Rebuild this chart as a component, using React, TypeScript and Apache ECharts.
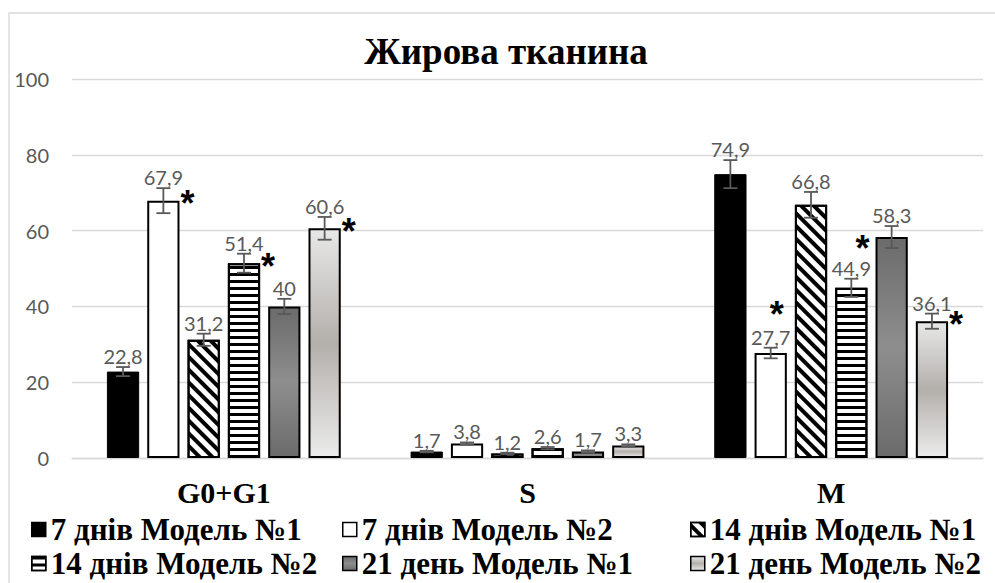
import React, { useEffect, useRef } from "react";
import * as echarts from "echarts";

const categories = ["G0+G1", "S", "M"];
const seriesNames = [
  "7 днів Модель №1",
  "7 днів Модель №2",
  "14 днів Модель №1",
  "14 днів Модель №2",
  "21 день Модель №1",
  "21 день Модель №2",
];
// values per series: [G0+G1, S, M]
const s1 = [22.8, 1.7, 74.9];
const s2 = [67.9, 3.8, 27.7];
const s3 = [31.2, 1.2, 66.8];
const s4 = [51.4, 2.6, 44.9];
const s5 = [40, 1.7, 58.3];
const s6 = [60.6, 3.3, 36.1];
const values = [s1, s2, s3, s4, s5, s6];
// error (± half range) per series
const e1 = [1.2, 0.2, 3.7];
const e2 = [3.3, 0.3, 1.4];
const e3 = [1.6, 0.2, 3.4];
const e4 = [2.5, 0.3, 2.4];
const e5 = [2.0, 0.3, 2.9];
const e6 = [3.0, 0.3, 2.0];
const errors = [e1, e2, e3, e4, e5, e6];
// significance marks: [categoryIndex, seriesIndex, side] side 0=right, 1=left, 2=top
const stars = [
  [0, 1, 0],
  [0, 3, 0],
  [0, 5, 0],
  [2, 1, 2],
  [2, 4, 1],
  [2, 5, 0],
];
const yTicks = { min: 0, max: 100, interval: 20 };

const BAR_CAT_GAP = 0.23;
const BAR_GAP = 0.25;
const N = 6;
const SERIF = "Liberation Serif";
const SANS = "Lato";

function barGeom(api: any, cat: number, s: number) {
  const band = api.size([1, 0])[0];
  const usable = band * (1 - BAR_CAT_GAP);
  const bw = usable / (N + (N - 1) * BAR_GAP);
  const center = api.coord([cat, 0])[0];
  const x = center - usable / 2 + bw / 2 + s * bw * (1 + BAR_GAP);
  return { x, bw };
}

const fmt = (v: number) => String(v).replace(".", ",");

export default function App() {
  const ref = useRef<HTMLDivElement>(null);
  useEffect(() => {
    if (!ref.current) return;
    const chart = echarts.init(ref.current, undefined, { renderer: "svg" });
    const border = { borderColor: "#000", borderWidth: 2 };
    const styles: any[] = [
      { color: "#000", borderColor: "#000", borderWidth: 1 },
      { color: "#fff", ...border },
      {
        color: "#fff",
        ...border,
        decal: {
          symbol: "rect",
          symbolSize: 1,
          color: "#000",
          backgroundColor: "#fff",
          dashArrayX: [1, 0],
          dashArrayY: [4, 5],
          rotation: Math.PI / 4,
        },
      },
      {
        color: "#fff",
        ...border,
        decal: {
          symbol: "rect",
          symbolSize: 1,
          color: "#000",
          backgroundColor: "#fff",
          dashArrayX: [1, 0],
          dashArrayY: [3, 4],
          rotation: 0,
        },
      },
      {
        color: new echarts.graphic.LinearGradient(0, 0, 0, 1, [
          { offset: 0, color: "#6b6b6b" },
          { offset: 0.5, color: "#8e8e8e" },
          { offset: 1, color: "#6b6b6b" },
        ]),
        ...border,
      },
      {
        color: new echarts.graphic.LinearGradient(0, 0, 0, 1, [
          { offset: 0, color: "#e8e8e8" },
          { offset: 0.5, color: "#b3afab" },
          { offset: 1, color: "#ebebeb" },
        ]),
        ...border,
      },
    ];

    const barSeries = values.map((vals, i) => ({
      name: seriesNames[i],
      type: "bar",
      data: vals,
      barGap: BAR_GAP * 100 + "%",
      barCategoryGap: BAR_CAT_GAP * 100 + "%",
      itemStyle: styles[i],
      z: 2,
    }));

    const errData: number[][] = [];
    values.forEach((vals, s) =>
      vals.forEach((v, c) => errData.push([c, s, v, errors[s][c]]))
    );
    const starData = stars.map(([c, s, side]) => [c, s, values[s][c], errors[s][c], side]);

    const legendText = {
      fontFamily: SERIF,
      fontWeight: "bold",
      fontSize: 31,
      color: "#000",
    };
    const mkLegend = (left: number, names: string[]) => ({
      left,
      top: 514,
      orient: "vertical",
      itemGap: 3,
      itemWidth: 14,
      itemHeight: 14,
      icon: "rect",
      data: names,
      textStyle: legendText,
      selectedMode: false,
      padding: 0,
      itemStyle: { borderColor: "#000", borderWidth: 1.5 },
    });

    chart.setOption({
      animation: false,
      title: {
        text: "Жирова тканина",
        left: 506,
        top: 33,
        textAlign: "center",
        padding: 0,
        textStyle: {
          fontFamily: SERIF,
          fontWeight: "bold",
          fontSize: 37,
          color: "#000",
        },
      },
      graphic: [
        {
          type: "rect",
          shape: { x: 9, y: 13, width: 1000, height: 600 },
          style: { fill: "none", stroke: "#d9d9d9", lineWidth: 1.3 },
          silent: true,
        },
      ],
      legend: [
        mkLegend(31, [seriesNames[0], seriesNames[3]]),
        mkLegend(342, [seriesNames[1], seriesNames[4]]),
        mkLegend(690, [seriesNames[2], seriesNames[5]]),
      ],
      grid: { left: 72, right: 12, top: 79, bottom: 125 },
      xAxis: {
        type: "category",
        data: categories,
        axisTick: { show: false },
        axisLine: { lineStyle: { color: "#d9d9d9", width: 1.3 } },
        axisLabel: {
          margin: 19,
          fontFamily: SERIF,
          fontWeight: "bold",
          fontSize: 30,
          color: "#000",
        },
      },
      yAxis: {
        type: "value",
        min: yTicks.min,
        max: yTicks.max,
        interval: yTicks.interval,
        axisLine: { show: false },
        axisTick: { show: false },
        splitLine: { lineStyle: { color: "#d9d9d9", width: 1.3 } },
        axisLabel: {
          margin: 23,
          fontFamily: SANS,
          fontSize: 20,
          color: "#595959",
        },
      },
      series: [
        ...barSeries,
        {
          type: "custom",
          name: "err",
          z: 10,
          silent: true,
          data: errData,
          renderItem: (params: any, api: any) => {
            const c = api.value(0);
            const s = api.value(1);
            const v = api.value(2);
            const e = api.value(3);
            const { x } = barGeom(api, c, s);
            const yt = api.coord([c, v + e])[1];
            const yb = api.coord([c, v - e])[1];
            const cap = 7;
            const ls = { stroke: "#595959", lineWidth: 1.8 };
            return {
              type: "group",
              children: [
                { type: "line", shape: { x1: x, y1: yt, x2: x, y2: yb }, style: ls },
                { type: "line", shape: { x1: x - cap, y1: yt, x2: x + cap, y2: yt }, style: ls },
                { type: "line", shape: { x1: x - cap, y1: yb, x2: x + cap, y2: yb }, style: ls },
                {
                  type: "text",
                  x,
                  y: yt - 1,
                  style: {
                    text: fmt(v),
                    textAlign: "center",
                    textVerticalAlign: "bottom",
                    fontFamily: SANS,
                    fontSize: 20,
                    fill: "#595959",
                  },
                },
              ],
            };
          },
        },
        {
          type: "custom",
          name: "stars",
          z: 11,
          silent: true,
          data: starData,
          renderItem: (params: any, api: any) => {
            const c = api.value(0);
            const s = api.value(1);
            const v = api.value(2);
            const e = api.value(3);
            const side = api.value(4);
            const { x, bw } = barGeom(api, c, s);
            let sx = x;
            let sy = api.coord([c, v])[1] - 5;
            if (side === 0) sx = x + bw / 2 + 8;
            else if (side === 1) {
              sx = x - bw / 2 - 13;
              sy += 8;
            } else {
              sx = x + 6;
              sy = api.coord([c, v + e])[1] - 41;
            }
            return {
              type: "text",
              x: sx,
              y: sy + 8,
              style: {
                text: "*",
                textAlign: "center",
                textVerticalAlign: "middle",
                fontFamily: "Liberation Sans",
                fontWeight: "bold",
                fontSize: 36,
                lineHeight: 14,
                fill: "#000",
              },
            };
          },
        },
      ],
    });
    return () => chart.dispose();
  }, []);
  return <div ref={ref} style={{ width: 995, height: 583, position: "absolute", left: 0, top: 0 }} />;
}
